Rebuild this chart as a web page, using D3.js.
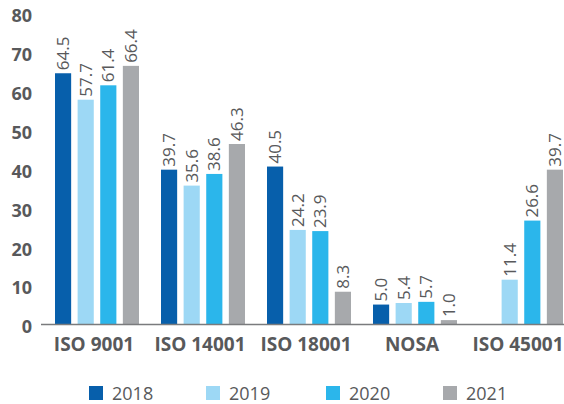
<!DOCTYPE html>
<html><head><meta charset="utf-8">
<script src="https://cdn.jsdelivr.net/npm/d3@7"></script>
<style>body{margin:0;background:#fff;}svg{display:block;font-family:"Open Sans","Noto Sans",sans-serif;}</style>
</head><body>
<svg id="c" width="564" height="404"></svg>
<script>
const categories = ["ISO 9001","ISO 14001","ISO 18001","NOSA","ISO 45001"];
const years = ["2018","2019","2020","2021"];
const v2018 = [64.5, 39.7, 40.5, 5.0, null];
const v2019 = [57.7, 35.6, 24.2, 5.4, 11.4];
const v2020 = [61.4, 38.6, 23.9, 5.7, 26.6];
const v2021 = [66.4, 46.3, 8.3, 1.0, 39.7];
const yTicks = [0,10,20,30,40,50,60,70,80];
const colors = ["#075fab","#9dd8f5","#2bb6eb","#a7a9ac"];
const series = [v2018, v2019, v2020, v2021];
const textColor = "#58595b";

const svg = d3.select("#c");
const y = d3.scaleLinear().domain([0,80]).range([324,13]);
const x0 = d3.scaleBand().domain(categories).range([41,571]);
const x1 = d3.scaleBand().domain(years).range([14,98]).paddingInner(0.2857).paddingOuter(0);

// y axis labels
const yAxis = d3.axisLeft(y).tickValues(yTicks).tickSize(0).tickPadding(0);
const ga = svg.append("g").attr("transform","translate(32,3)").call(yAxis);
ga.select(".domain").remove();
ga.selectAll("text").attr("fill",textColor).style("font-size","18px").style("font-weight","700")
  .style("font-family",'"Open Sans","Noto Sans",sans-serif');

// bars
const groups = svg.append("g").selectAll("g").data(categories).join("g")
  .attr("transform", d => `translate(${x0(d)},0)`);
years.forEach((yr, si) => {
  groups.each(function(cat, ci){
    const val = series[si][ci];
    if (val == null) return;
    const g = d3.select(this);
    g.append("rect").attr("x", x1(yr)).attr("width", x1.bandwidth())
      .attr("y", y(val)).attr("height", y(0)-y(val)).attr("fill", colors[si]);
    const cx = x1(yr) + x1.bandwidth()/2;
    g.append("text").attr("transform", `translate(${cx+6},${y(val)-3}) rotate(-90)`)
      .attr("text-anchor","start").attr("fill", textColor)
      .style("font-size","17px").text(val.toFixed(1));
  });
});

// x axis
const xAxis = d3.axisBottom(x0).tickSize(0).tickPadding(0);
const gx = svg.append("g").attr("transform","translate(0,324)").call(xAxis);
gx.select(".domain").remove();
svg.append("line").attr("x1",41).attr("x2",564).attr("y1",324.5).attr("y2",324.5)
  .attr("stroke","#7a7b7d").attr("stroke-width",1.5);
gx.selectAll("text").attr("fill",textColor).attr("y",27).attr("dy",0)
  .style("font-size","19px").style("font-weight","700")
  .style("font-family",'"Open Sans","Noto Sans",sans-serif');

// legend
const lx = [89, 206, 326, 443];
const lg = svg.append("g").selectAll("g").data(years).join("g")
  .attr("transform",(d,i)=>`translate(${lx[i]},386)`);
lg.append("rect").attr("width",14).attr("height",14).attr("fill",(d,i)=>colors[i]);
lg.append("text").attr("x",23).attr("y",13.5).attr("fill",textColor).style("font-size","18px").text(d=>d);
</script>
</body></html>
